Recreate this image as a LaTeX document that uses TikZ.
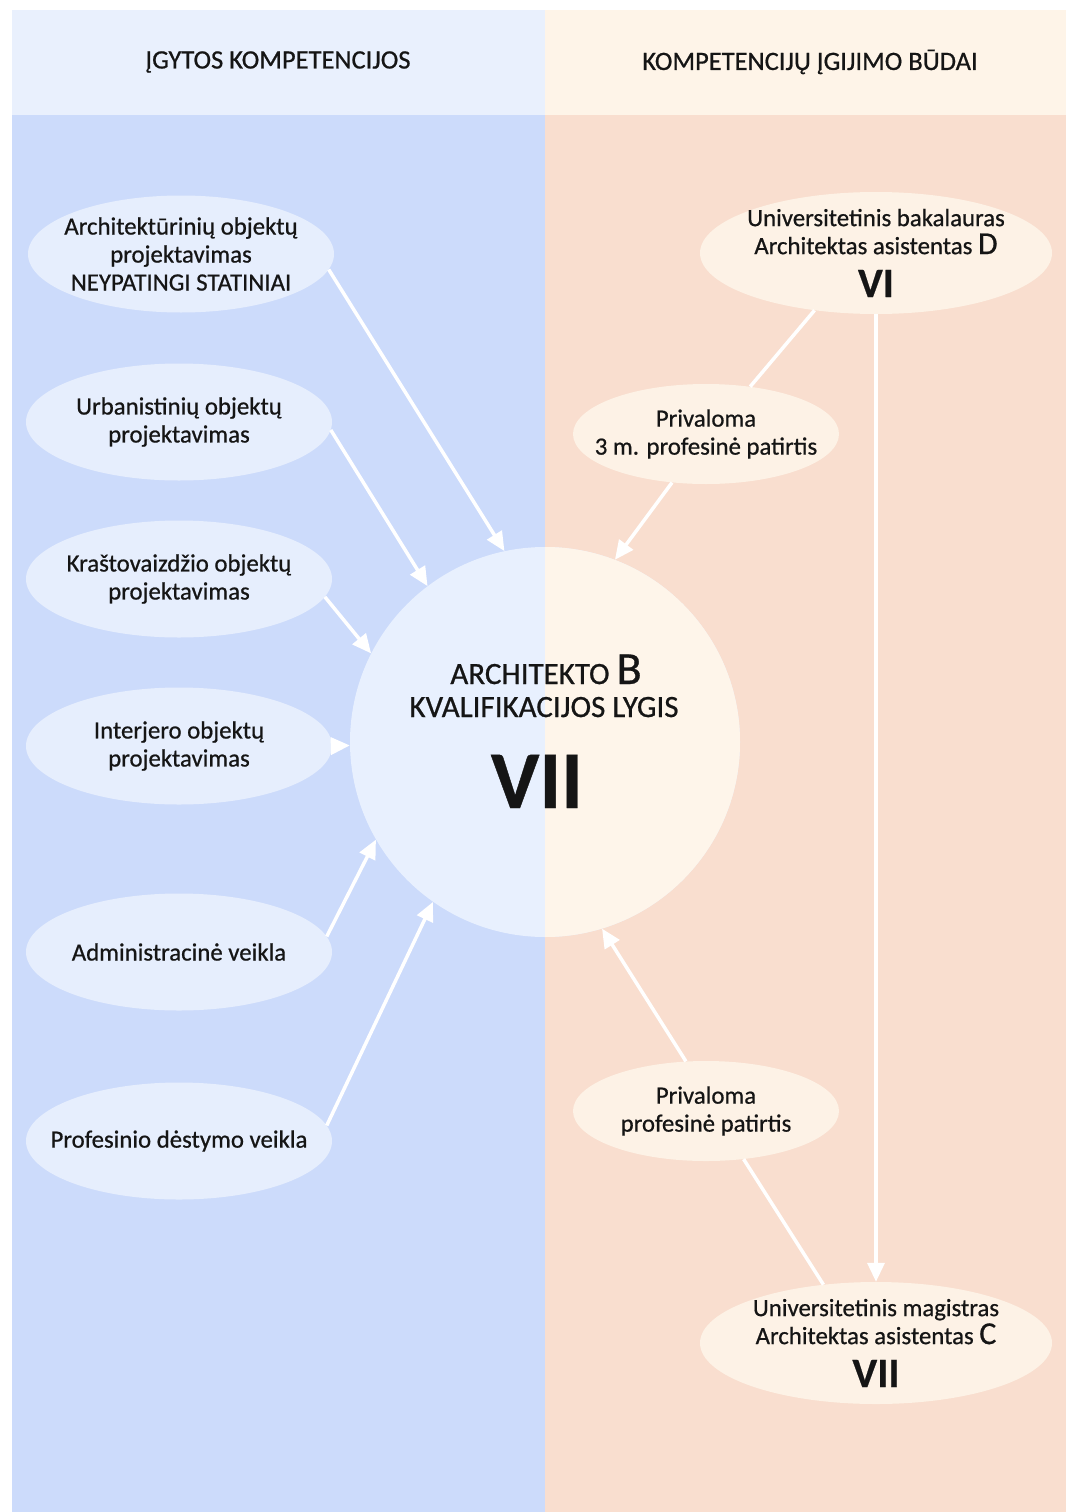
\documentclass[tikz,border=0pt]{standalone}
\usepackage{fontspec}
\setmainfont{Carlito}[UprightFeatures={FakeBold=0.7},BoldFeatures={FakeBold=0.5}]
\usetikzlibrary{shapes.geometric,arrows.meta}
\definecolor{lhead}{HTML}{E9F0FD}
\definecolor{lbody}{HTML}{CCDBFB}
\definecolor{rhead}{HTML}{FEF4E8}
\definecolor{rbody}{HTML}{F9DECF}
\definecolor{lell}{HTML}{E6EEFD}
\definecolor{rellc}{HTML}{FDF2E6}
\definecolor{cleft}{HTML}{E8F0FE}
\definecolor{cright}{HTML}{FEF5EA}
\definecolor{ink}{HTML}{151515}
\begin{document}
\begin{tikzpicture}[x=1pt,y=-1pt,
  ellbase/.style={ellipse,inner xsep=-60pt,inner ysep=-14pt,align=center,text=ink,
    font=\fontsize{24.8}{28}\selectfont},
  lell/.style={ellbase,fill=lell,minimum width=306pt,minimum height=117pt},
  rbig/.style={ellbase,fill=rellc,minimum width=352pt,minimum height=122pt},
  rsmall/.style={ellbase,fill=rellc,minimum width=266pt,minimum height=100pt},
  headtxt/.style={text=ink,font=\fontsize{26.5}{30}\selectfont},
  ctext/.style={anchor=base,text=ink,inner sep=0pt},
  conn/.style={white,line width=3.5pt},
  arr/.style={conn,-{Triangle[length=19pt,width=17pt]}}
]
\useasboundingbox (0,0) rectangle (1066,1512);
\fill[white] (0,0) rectangle (1066,1512);
% panels
\fill[lbody] (12,115) rectangle (545,1512);
\fill[rbody] (545,115) rectangle (1066,1512);
\fill[lhead] (12,10) rectangle (545,115);
\fill[rhead] (545,10) rectangle (1066,115);
\node[headtxt] (hl) at (278,62) {ĮGYTOS KOMPETENCIJOS};
\node[headtxt] (hr) at (810,62) {KOMPETENCIJŲ ĮGIJIMO BŪDAI};
% central circle
\node[circle,minimum size=390pt,inner sep=0pt,fill=cleft,
  path picture={\fill[cright] (path picture bounding box.north) rectangle (path picture bounding box.south east);}]
  (circ) at (545,742) {};
\node[ctext,font=\fontsize{31}{34}\selectfont] (ct1) at (546,684) {ARCHITEKTO {\fontsize{46}{34}\selectfont B}};
\node[ctext,font=\fontsize{31}{34}\selectfont] (ct2) at (544,717) {KVALIFIKACIJOS LYGIS};
\node[ctext,font=\fontsize{82}{82}\bfseries] (ct3) at (537,808) {VII};
% left ellipses
\node[lell] (e1) at (181,254) {Architektūrinių objektų\\projektavimas\\NEYPATINGI STATINIAI};
\node[lell] (e2) at (179,422) {Urbanistinių objektų\\projektavimas};
\node[lell] (e3) at (179,579) {Kraštovaizdžio objektų\\projektavimas};
\node[lell] (e4) at (179,746) {Interjero objektų\\projektavimas};
\node[lell] (e5) at (179,952) {Administracinė veikla};
\node[lell] (e6) at (179,1141) {Profesinio dėstymo veikla};
% right ellipses
\node[rbig] (d) at (876,253) {Universitetinis bakalauras\\Architektas asistentas {\fontsize{32}{28}\selectfont D}\\[15pt]{\fontsize{42}{40}\bfseries VI}};
\node[rsmall] (p3) at (706,434) {Privaloma\\3 m. profesinė patirtis};
\node[rsmall] (pp) at (706,1111) {Privaloma\\profesinė patirtis};
\node[rbig] (c) at (876,1343) {Universitetinis magistras\\Architektas asistentas {\fontsize{32}{28}\selectfont C}\\[15pt]{\fontsize{42}{40}\bfseries VII}};
% connectors
\draw[arr] (e1.-6.6) -- (circ.102.6);
\draw[arr] (e2.-3.8) -- (circ.127);
\draw[arr] (e3.-7) -- (circ.153.3);
\draw[arr] (e4.0) -- (circ.181);
\draw[arr] (e5.6.4) -- (circ.210.2);
\draw[arr] (e6.6) -- (circ.235);
\draw[conn] (d.223.6) -- (p3.47.4);
\draw[arr] (p3.235.2) -- (circ.69.9);
\draw[arr] (d.south) -- (c.north);
\draw[conn] (c.132.3) -- (pp.-52);
\draw[arr] (pp.112.8) -- (circ.-73.4);
\end{tikzpicture}
\end{document}
